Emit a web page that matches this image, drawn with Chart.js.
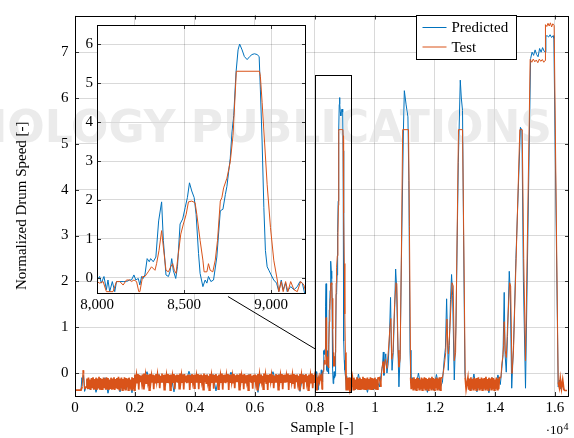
<!DOCTYPE html>
<html><head><meta charset="utf-8">
<script src="https://cdn.jsdelivr.net/npm/chart.js@4.4.0/dist/chart.umd.min.js"></script>
<style>
html,body{margin:0;padding:0;background:#fff;}
#wrap{position:relative;width:574px;height:438px;overflow:hidden;background:#fff;}
#main{position:absolute;left:0;top:0;width:574px;height:438px;}
#inset{position:absolute;left:50px;top:12px;width:270px;height:310px;}
#mark{position:absolute;right:22px;top:105px;white-space:nowrap;font:bold 44px 'DejaVu Sans',sans-serif;line-height:44px;color:#ebebeb;mix-blend-mode:darken;pointer-events:none;}
</style></head><body>
<div id="wrap">
<canvas id="main" width="574" height="438"></canvas>
<canvas id="inset" width="270" height="310"></canvas>
<div id="mark">TECHNOLOGY PUBLICATIONS</div>
</div>
<script>
// ---------------- data ----------------
const xTicks = [0,2000,4000,6000,8000,10000,12000,14000,16000];
const xTickLabels = ['0','0.2','0.4','0.6','0.8','1','1.2','1.4','1.6'];
const yTicks = [0,1,2,3,4,5,6,7];
const insetXTicks = [8000,8500,9000];
const insetXTickLabels = ['8,000','8,500','9,000'];
const insetYTicks = [0,1,2,3,4,5,6];
const seriesNames = ['Predicted','Test'];

// start of record [sample, value]
const testStart = [[0,-0.37],[200,-0.37],[240,-0.3],[267,0.06],[290,0.0],[320,-0.35],[370,-0.3]];
const predStart = [[0,-0.38],[200,-0.38],[230,-0.1],[250,-0.2],[280,-0.05],[320,-0.4],[370,-0.3]];

// idle noise, regular sampling (value lists)
const testNoiseA = [
 -0.12,-0.35,-0.1,-0.33,-0.14,-0.37,-0.11,-0.31,-0.09,-0.36,-0.13,-0.34,-0.1,-0.37,-0.12,-0.32,
 -0.08,-0.36,-0.11,-0.35,-0.13,-0.37,-0.1,-0.31,-0.12,-0.36,-0.09,-0.34,-0.11,-0.37,-0.14,-0.33,
 -0.1,-0.36,-0.12,-0.34,-0.09,-0.37,-0.13,-0.32,-0.11,-0.35,-0.08,-0.36,-0.12,-0.33,-0.1,-0.37,
 -0.13,-0.35,-0.09,-0.36,-0.11,-0.31,-0.12,-0.37,-0.1,-0.34,-0.14,-0.36,-0.09,-0.35,-0.11,-0.37];
const testNoiseB = [
 -0.03,-0.19,-0.05,-0.21,-0.02,-0.36,-0.04,-0.18,-0.06,-0.2,-0.03,-0.34,-0.01,-0.19,-0.05,-0.22,-0.03,-0.18,-0.04,-0.37,
 -0.02,-0.2,-0.06,-0.19,-0.03,-0.35,-0.05,-0.21,-0.02,-0.18,-0.04,-0.2,-0.03,-0.33,-0.06,-0.19,-0.01,-0.21,-0.04,-0.36,
 -0.03,-0.18,-0.05,-0.2,-0.02,-0.22,-0.04,-0.37,-0.03,-0.19,-0.06,-0.2,-0.02,-0.35,-0.05,-0.18,-0.03,-0.21,-0.04,-0.34,
 -0.01,-0.19,-0.05,-0.2,-0.03,-0.36,-0.02,-0.18,-0.06,-0.22,-0.04,-0.19,-0.03,-0.37,-0.05,-0.2,-0.02,-0.18,-0.04,-0.33,
 -0.03,-0.21,-0.06,-0.19,-0.02,-0.35,-0.04,-0.2,-0.03,-0.18,-0.05,-0.36,-0.01,-0.2,-0.04,-0.22,-0.03,-0.19,-0.06,-0.37,
 -0.02,-0.18,-0.05,-0.2,-0.03,-0.34,-0.04,-0.19,-0.02,-0.21,-0.06,-0.35,-0.03,-0.18,-0.05,-0.2,-0.01,-0.36,-0.04,-0.19,
 -0.03,-0.22,-0.05,-0.18,-0.02,-0.37,-0.04,-0.2,-0.03,-0.19,-0.06,-0.21,-0.02,-0.33,-0.05,-0.18,-0.03,-0.2,-0.04,-0.36,
 -0.01,-0.19,-0.06,-0.2,-0.03,-0.35,-0.02,-0.21,-0.05,-0.18,-0.04,-0.37,-0.03,-0.19,-0.02,-0.2,-0.06,-0.34,-0.04,-0.18,
 -0.03,-0.2,-0.05,-0.36,-0.02,-0.19,-0.04,-0.21,-0.03,-0.18,-0.06,-0.35,-0.01,-0.2,-0.05,-0.22,-0.03,-0.37,-0.04,-0.19,
 -0.02,-0.18,-0.05,-0.2,-0.03,-0.33,-0.06,-0.19,-0.02,-0.21,-0.04,-0.36,-0.03,-0.18,-0.05,-0.2,-0.02,-0.35,-0.04,-0.19,
 -0.03,-0.21,-0.06,-0.18,-0.01,-0.37,-0.04,-0.2,-0.03,-0.19,-0.05,-0.22,-0.02,-0.34,-0.04,-0.18,-0.03,-0.2,-0.06,-0.36,
 -0.02,-0.19,-0.05,-0.21,-0.03,-0.35,-0.04,-0.18,-0.02,-0.2,-0.06,-0.37,-0.03,-0.19,-0.05,-0.21,-0.01,-0.33,-0.04,-0.2];
const testNoiseC = [-0.12,-0.36,-0.1,-0.37,-0.14,-0.33,-0.09,-0.36,-0.12,-0.35,-0.1,-0.37,-0.13,-0.34,-0.08,-0.36,-0.11,-0.35,-0.12,-0.37,-0.1,-0.34,-0.13,-0.36,-0.09,-0.35,-0.11,-0.37,-0.12,-0.33,-0.1,-0.36,-0.14,-0.35,-0.11];
const testNoiseD = [-0.12,-0.36,-0.09,-0.35,-0.13,-0.37,-0.1,-0.33,-0.11,-0.36,-0.14,-0.35,-0.1,-0.37,-0.12,-0.34,-0.09,-0.36,-0.11,-0.35,-0.13,-0.37,-0.1,-0.34,-0.12,-0.36,-0.08,-0.35,-0.11,-0.37,-0.13,-0.33,-0.1,-0.36,-0.12,-0.35,-0.09,-0.37,-0.11];
const testNoiseE = [-0.1,-0.36,-0.12,-0.37,-0.09,-0.34,-0.13,-0.36,-0.1,-0.35,-0.12,-0.37,-0.11,-0.33,-0.09,-0.36,-0.13,-0.35,-0.1,-0.37,-0.12,-0.34,-0.11,-0.36,-0.08,-0.35,-0.13,-0.37,-0.1,-0.33,-0.12,-0.36,-0.09,-0.35,-0.11,-0.37,-0.14,-0.34,-0.1,-0.36,-0.12,-0.35,-0.1];

const predNoiseAB = [
 -0.15,-0.36,-0.12,-0.42,-0.2,-0.35,-0.1,-0.44,-0.16,-0.34,-0.12,-0.41,-0.18,-0.36,-0.11,-0.43,
 -0.04,-0.18,-0.06,-0.15,0.03,-0.19,-0.05,-0.17,-0.03,-0.2,-0.06,-0.16,-0.04,-0.41,-0.05,-0.18,-0.03,-0.19,0.04,-0.17,
 -0.05,-0.18,-0.06,-0.16,-0.04,-0.19,-0.03,-0.39,-0.05,-0.17,-0.06,-0.18,0.02,-0.16,-0.04,-0.19,-0.05,-0.2,-0.03,-0.17,
 -0.06,-0.42,-0.04,-0.18,-0.05,-0.16,0.03,-0.19,-0.03,-0.17,-0.06,-0.18,-0.04,-0.2,-0.05,-0.4,-0.03,-0.17,-0.06,-0.19];
const predNoiseC = [-0.12,-0.36,-0.02,-0.35,-0.15,-0.42,-0.11,-0.37,-0.14];
const predNoiseD = [-0.1,-0.36,0.0,-0.35,-0.16,-0.42,-0.12,-0.37,-0.03,-0.36];
const predNoiseE = [-0.11,-0.37,-0.02,-0.41,-0.15,-0.36,-0.12,-0.43,-0.1,-0.35,-0.04];

// zoomed window 8000-9200 [sample, value]
const predZoom = [[8000,-0.06],[8015,0.03],[8025,-0.14],[8040,0.03],[8054,-0.31],[8063,-0.06],[8073,-0.36],[8088,-0.1],[8102,-0.36],[8112,-0.1],[8131,-0.1],[8150,-0.1],[8169,-0.1],[8188,-0.06],[8198,-0.06],[8212,0.07],[8223,-0.06],[8237,-0.02],[8246,-0.19],[8256,0.03],[8265,-0.02],[8275,0.07],[8288,0.49],[8300,0.41],[8308,0.49],[8323,0.41],[8338,0.53],[8354,1.46],[8371,1.95],[8381,0.96],[8396,0.07],[8410,0.03],[8419,0.15],[8429,0.49],[8438,0.19],[8452,-0.02],[8462,0.28],[8477,1.38],[8492,1.51],[8506,1.8],[8519,2.06],[8531,2.44],[8544,2.23],[8558,2.06],[8569,1.63],[8583,0.62],[8592,0.11],[8608,-0.23],[8621,-0.06],[8631,-0.14],[8640,0.03],[8654,-0.1],[8669,-0.06],[8688,0.53],[8708,1.72],[8723,1.76],[8737,2.14],[8746,2.35],[8756,2.73],[8765,3.07],[8775,3.75],[8785,4.17],[8798,5.27],[8810,5.86],[8819,6.01],[8833,5.86],[8846,5.69],[8862,5.61],[8877,5.69],[8890,5.74],[8904,5.76],[8919,5.74],[8931,5.69],[8938,4.85],[8948,3.49],[8958,1.8],[8967,0.7],[8977,0.28],[8987,0.19],[9000,0.07],[9015,-0.06],[9031,-0.14],[9044,-0.36],[9058,-0.06],[9069,-0.31],[9083,-0.14],[9092,-0.36],[9112,-0.23],[9131,-0.31],[9150,-0.23],[9165,-0.1],[9179,-0.14],[9192,-0.4],[9200,-0.4]];
const testZoom = [[8000,-0.1],[8015,-0.14],[8035,-0.1],[8054,-0.36],[8073,-0.36],[8092,-0.36],[8112,-0.1],[8131,-0.1],[8150,-0.19],[8169,-0.06],[8188,-0.06],[8198,-0.1],[8212,-0.06],[8227,-0.1],[8240,-0.36],[8246,-0.36],[8262,0.03],[8275,0.03],[8294,0.15],[8313,0.28],[8333,0.19],[8342,0.36],[8356,0.7],[8371,1.21],[8381,0.79],[8396,0.19],[8410,0.15],[8423,0.28],[8435,0.36],[8444,0.19],[8454,0.11],[8467,0.62],[8481,1.12],[8496,1.38],[8512,1.63],[8525,1.95],[8544,1.97],[8563,1.93],[8573,1.63],[8592,0.96],[8608,0.45],[8615,0.15],[8631,0.15],[8640,0.36],[8650,0.19],[8665,0.15],[8679,0.45],[8692,0.96],[8708,1.97],[8717,2.06],[8727,2.31],[8746,2.56],[8765,2.98],[8781,3.66],[8788,4.26],[8800,5.31],[8933,5.31],[8938,5.18],[8948,4.51],[8962,3.49],[8977,2.39],[8996,1.29],[9015,0.45],[9035,-0.06],[9044,-0.36],[9058,-0.1],[9069,-0.36],[9083,-0.1],[9096,-0.36],[9112,-0.1],[9131,-0.31],[9150,-0.36],[9169,-0.1],[9179,-0.14],[9188,-0.19],[9200,-0.4]];

// later drum runs [sample, value]
const testGroup2 = [[10150,-0.1],[10200,-0.3],[10230,0.1],[10270,0.25],[10300,0.0],[10350,0.3],[10400,0.1],[10450,0.5],[10500,1.0],[10530,1.19],[10560,0.3],[10600,0.45],[10650,1.4],[10700,1.97],[10730,1.95],[10770,0.5],[10800,0.13],[10840,0.3],[10880,2.5],[10925,5.31],[11120,5.31],[11150,3.2],[11190,-0.1],[11210,-0.35]];
const predGroup2 = [[10150,-0.3],[10200,-0.05],[10250,0.15],[10280,0.46],[10300,-0.05],[10330,0.25],[10360,0.42],[10400,0.0],[10440,0.2],[10480,0.7],[10520,1.65],[10550,0.5],[10570,0.06],[10610,0.45],[10660,1.5],[10690,2.27],[10720,1.9],[10760,0.7],[10800,-0.3],[10840,0.4],[10890,2.8],[10950,5.3],[10980,6.16],[11040,5.85],[11100,5.59],[11130,4.2],[11170,0.5],[11200,-0.2]];
const testGroup3 = [[12250,-0.1],[12300,0.1],[12330,0.27],[12360,0.45],[12400,1.18],[12430,0.6],[12450,0.42],[12500,1.0],[12570,1.97],[12610,1.9],[12645,0.27],[12690,0.45],[12785,5.31],[12920,5.31],[12960,3.0],[13010,-0.1],[13040,-0.35]];
const predGroup3 = [[12250,-0.2],[12280,0.05],[12310,0.3],[12350,0.55],[12390,1.62],[12420,0.8],[12445,0.06],[12480,0.6],[12520,1.6],[12555,2.15],[12590,1.7],[12645,-0.15],[12700,1.0],[12780,4.6],[12845,6.39],[12880,6.0],[12920,5.73],[12955,3.0],[13000,0.0],[13040,-0.3]];
const testGroup4 = [[14200,-0.1],[14230,0.2],[14260,0.34],[14290,0.6],[14310,1.12],[14340,0.5],[14380,0.34],[14420,1.0],[14490,1.97],[14525,1.9],[14570,-0.01],[14620,0.5],[14830,5.31],[14910,5.31],[14960,2.5],[15020,0.27]];
const predGroup4 = [[14180,-0.25],[14230,0.1],[14270,0.4],[14310,1.76],[14340,0.4],[14378,0.02],[14420,0.8],[14478,2.22],[14510,1.8],[14560,-0.33],[14620,0.6],[14700,2.5],[14850,5.36],[14900,5.3],[14950,2.0],[15020,-0.33]];
const testPlateau = [[15175,6.84],[15230,6.78],[15280,6.85],[15330,6.79],[15380,6.83],[15430,6.77],[15480,6.85],[15530,6.8],[15580,6.84],[15630,6.78],[15670,6.82],[15685,7.6],[15730,7.56],[15770,7.63],[15810,7.57],[15850,7.64],[15890,7.55],[15930,7.62],[15975,7.58],[16110,-0.2],[16150,-0.32],[16180,-0.12],[16220,-0.34],[16260,-0.15],[16300,-0.36],[16330,-0.38],[16400,-0.38]];
const predPlateau = [[15190,6.86],[15240,7.0],[15290,6.93],[15340,7.05],[15390,6.95],[15440,6.9],[15490,7.08],[15540,7.0],[15590,7.1],[15640,7.02],[15680,7.0],[15700,7.35],[15740,7.36],[15790,7.33],[15840,7.38],[15890,7.32],[15940,7.36],[15965,7.3],[16110,-0.3],[16150,-0.15],[16200,-0.35],[16260,-0.2],[16300,-0.37],[16330,-0.38],[16400,-0.38]];

// ---------------- build ----------------
const NOISE_STEP_TEST = 25, NOISE_STEP_PRED = 100;
const seq = (start, step, vals) => vals.map((v, i) => ({x: start + i * step, y: v}));
const pts = pairs => pairs.map(p => ({x: p[0], y: p[1]}));

const testData = [].concat(
  pts(testStart), seq(400, NOISE_STEP_TEST, testNoiseA), seq(2000, NOISE_STEP_TEST, testNoiseB),
  pts(testZoom), seq(9250, NOISE_STEP_TEST, testNoiseC), pts(testGroup2),
  seq(11250, NOISE_STEP_TEST, testNoiseD), pts(testGroup3), seq(13100, NOISE_STEP_TEST, testNoiseE),
  pts(testGroup4), pts(testPlateau));
const predData = [].concat(
  pts(predStart), seq(400, NOISE_STEP_PRED, predNoiseAB),
  pts(predZoom), seq(9250, NOISE_STEP_PRED, predNoiseC), pts(predGroup2),
  seq(11250, NOISE_STEP_PRED, predNoiseD), pts(predGroup3), seq(13100, NOISE_STEP_PRED, predNoiseE),
  pts(predGroup4), pts(predPlateau));

const BLUE = '#0072BD', ORANGE = '#D95319';
const FONT = "'Liberation Serif','Times New Roman',serif";
Chart.defaults.font.family = FONT;
Chart.defaults.font.size = 15;
Chart.defaults.color = '#000';

const zoomBox = {x0: 8000, x1: 9200, y0: -0.42, y1: 6.5};
const connector = {x0: 5100, y0: 1.67, x1: 8000, y1: 0.53};

function innerTicks(chart, xs, ys) {
  const {ctx, chartArea: a, scales} = chart;
  ctx.save();
  ctx.strokeStyle = '#333'; ctx.lineWidth = 1;
  ctx.beginPath();
  xs.forEach(v => { const px = Math.round(scales.x.getPixelForValue(v)) + 0.5;
    if (px > a.left + 1 && px < a.right - 1) { ctx.moveTo(px, a.bottom); ctx.lineTo(px, a.bottom - 4); ctx.moveTo(px, a.top); ctx.lineTo(px, a.top + 4); } });
  ys.forEach(v => { const py = Math.round(scales.y.getPixelForValue(v)) + 0.5;
    ctx.moveTo(a.left, py); ctx.lineTo(a.left + 4, py); ctx.moveTo(a.right, py); ctx.lineTo(a.right - 4, py); });
  ctx.stroke();
  ctx.strokeStyle = '#000';
  ctx.strokeRect(Math.round(a.left) + 0.5, Math.round(a.top) + 0.5, Math.round(a.right - a.left) - 1, Math.round(a.bottom - a.top) - 1);
  ctx.restore();
}

const mainDecor = {
  id: 'mainDecor',
  afterDatasetsDraw(chart) {
    const {ctx, scales} = chart;
    innerTicks(chart, xTicks, yTicks);
    ctx.save();
    ctx.strokeStyle = '#000'; ctx.lineWidth = 1;
    const X = v => scales.x.getPixelForValue(v), Y = v => scales.y.getPixelForValue(v);
    ctx.strokeRect(Math.round(X(zoomBox.x0)) + 0.5, Math.round(Y(zoomBox.y1)) + 0.5,
      Math.round(X(zoomBox.x1) - X(zoomBox.x0)), Math.round(Y(zoomBox.y0) - Y(zoomBox.y1)));
    ctx.beginPath();
    ctx.moveTo(X(connector.x0), Y(connector.y0));
    ctx.lineTo(X(connector.x1), Y(connector.y1));
    ctx.stroke();
    // legend
    const lx = 416.5, ly = 15.5, lw = 100, lh = 44;
    ctx.fillStyle = '#fff'; ctx.fillRect(lx, ly, lw, lh);
    ctx.strokeRect(lx, ly, lw, lh);
    const ds = chart.data.datasets;
    [ds[0], ds[1]].forEach((d, i) => {
      const yy = ly + 12 + i * 19.5;
      ctx.strokeStyle = d.borderColor; ctx.lineWidth = 1;
      ctx.beginPath(); ctx.moveTo(lx + 6, yy); ctx.lineTo(lx + 30, yy); ctx.stroke();
      ctx.fillStyle = '#000'; ctx.font = '15px ' + FONT; ctx.textBaseline = 'middle'; ctx.textAlign = 'left';
      ctx.fillText(d.label, lx + 35, yy + 1);
    });
    // exponent label
    ctx.fillStyle = '#000'; ctx.textAlign = 'right'; ctx.textBaseline = 'alphabetic';
    ctx.font = '13px ' + FONT; ctx.fillText('\u00b710', 563, 433.5);
    ctx.font = '10px ' + FONT; ctx.textAlign = 'left'; ctx.fillText('4', 563.5, 429.5);
    ctx.restore();
  }
};

// idle (low-speed) stretches are drawn a little heavier so the dense sampling reads as a band
const idleWidth = ctx => (ctx.p0.parsed.y < -0.005 && ctx.p1.parsed.y < -0.005) ? 1.7 : 1;

const gridColor = 'rgba(0,0,0,0.15)';
new Chart(document.getElementById('main'), {
  type: 'line',
  data: { datasets: [
    {label: seriesNames[0], data: predData, borderColor: BLUE, borderWidth: 1, pointRadius: 0, tension: 0, order: 1},
    {label: seriesNames[1], data: testData, borderColor: ORANGE, borderWidth: 1, pointRadius: 0, tension: 0, order: 0,
      segment: {borderWidth: idleWidth}}
  ]},
  options: {
    responsive: false, animation: false, devicePixelRatio: 1,
    layout: {padding: {left: 0, top: 5.5, right: 5, bottom: 0}},
    plugins: {legend: {display: false}, tooltip: {enabled: false}},
    scales: {
      x: {type: 'linear', min: 0, max: 16470,
        afterBuildTicks: s => { s.ticks = xTicks.map(v => ({value: v})); },
        afterFit: s => { s.height = 42; },
        ticks: {padding: 3, maxRotation: 0, autoSkip: false, callback: v => xTickLabels[xTicks.indexOf(v)]},
        grid: {color: gridColor, drawTicks: false}, border: {display: false},
        title: {display: true, text: 'Sample [-]', padding: {top: 0, bottom: 0.5}}},
      y: {type: 'linear', min: -0.5, max: 7.8,
        afterBuildTicks: s => { s.ticks = yTicks.map(v => ({value: v})); },
        afterFit: s => { s.width = 75; },
        ticks: {padding: 6.5, callback: v => String(v)},
        grid: {color: gridColor, drawTicks: false}, border: {display: false},
        title: {display: true, text: 'Normalized Drum Speed [-]', padding: {top: 13.3, bottom: 0}}}
    }
  },
  plugins: [mainDecor]
});

const insetDecor = {
  id: 'insetDecor',
  beforeDraw(chart) {
    const {ctx, chartArea: a} = chart;
    ctx.save(); ctx.fillStyle = '#fff'; ctx.fillRect(a.left, a.top, a.right - a.left, a.bottom - a.top); ctx.restore();
  },
  afterDatasetsDraw(chart) { innerTicks(chart, insetXTicks, insetYTicks); }
};

new Chart(document.getElementById('inset'), {
  type: 'line',
  data: { datasets: [
    {label: seriesNames[0], data: pts(predZoom), borderColor: BLUE, borderWidth: 1, pointRadius: 0, tension: 0, order: 1},
    {label: seriesNames[1], data: pts(testZoom), borderColor: ORANGE, borderWidth: 1, pointRadius: 0, tension: 0, order: 0}
  ]},
  options: {
    responsive: false, animation: false, devicePixelRatio: 1,
    layout: {padding: {left: 0, top: 10, right: 14, bottom: 0}},
    plugins: {legend: {display: false}, tooltip: {enabled: false}},
    scales: {
      x: {type: 'linear', min: 8000, max: 9200,
        afterBuildTicks: s => { s.ticks = insetXTicks.map(v => ({value: v})); },
        afterFit: s => { s.height = 28; },
        ticks: {padding: 2, maxRotation: 0, autoSkip: false, callback: v => insetXTickLabels[insetXTicks.indexOf(v)]},
        grid: {color: gridColor, drawTicks: false}, border: {display: false}},
      y: {type: 'linear', min: -0.42, max: 6.5,
        afterBuildTicks: s => { s.ticks = insetYTicks.map(v => ({value: v})); },
        afterFit: s => { s.width = 47; },
        ticks: {padding: 4, callback: v => String(v)},
        grid: {color: gridColor, drawTicks: false}, border: {display: false}}
    }
  },
  plugins: [insetDecor]
});
</script>
</body></html>
